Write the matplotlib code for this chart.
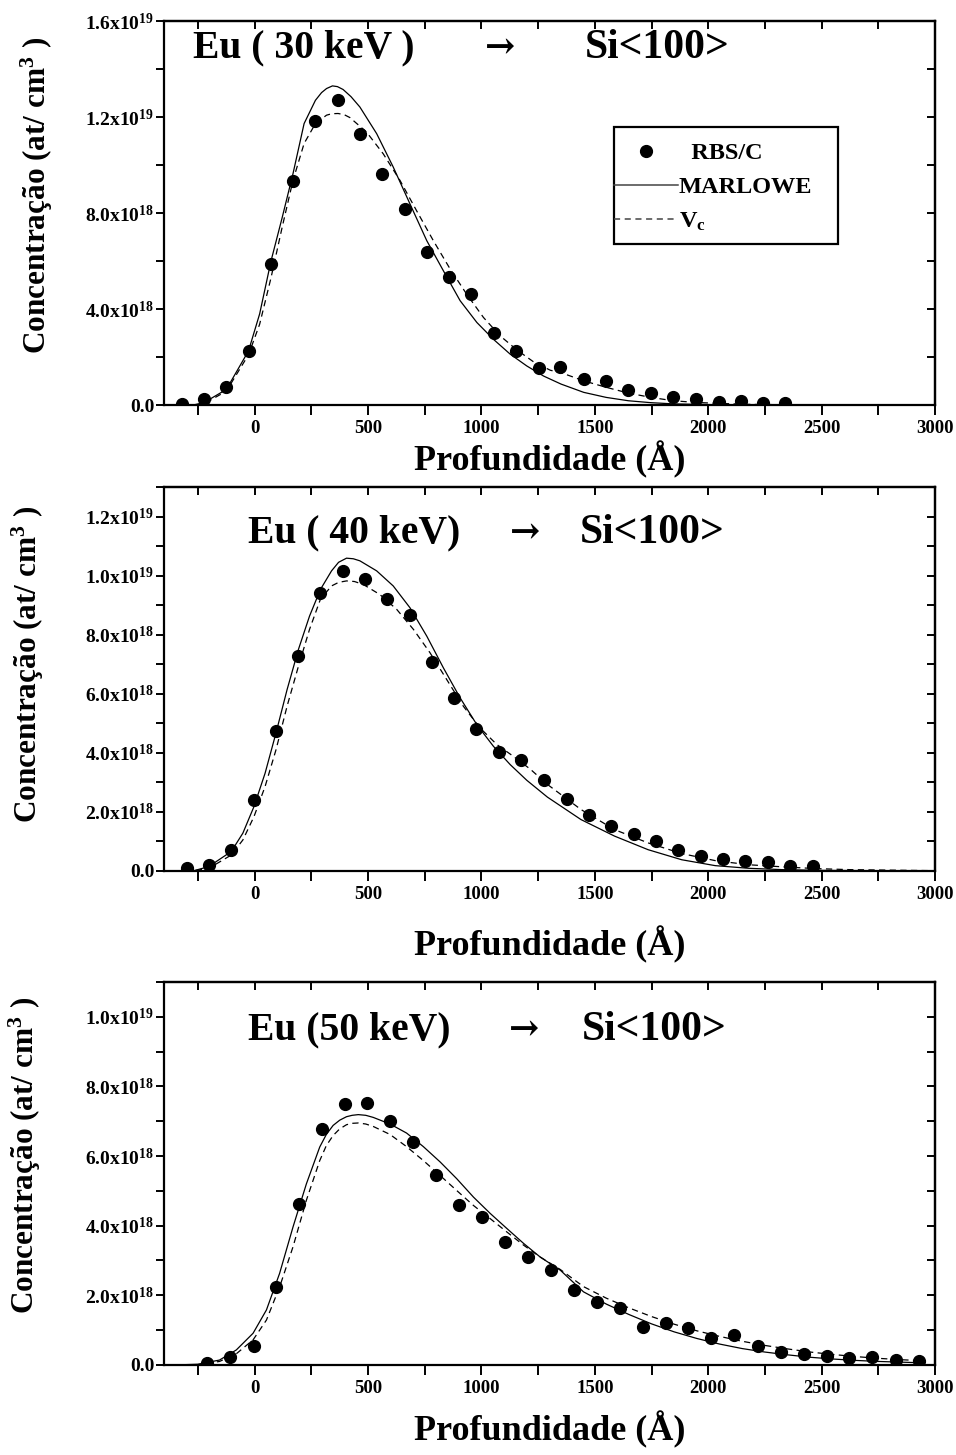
import matplotlib
matplotlib.use('Agg')
import matplotlib.pyplot as plt
import numpy as np
from matplotlib.ticker import MultipleLocator, FuncFormatter
from matplotlib.lines import Line2D
from matplotlib.patches import Rectangle

plt.rcParams['font.family'] = ['Liberation Serif', 'DejaVu Serif']
plt.rcParams['font.weight'] = 'bold'
plt.rcParams['mathtext.fontset'] = 'custom'
plt.rcParams['mathtext.rm'] = 'Liberation Serif:bold'
plt.rcParams['mathtext.it'] = 'Liberation Serif:bold'
plt.rcParams['mathtext.bf'] = 'Liberation Serif:bold'

# ---- data (depth in Angstrom, concentration in 1e18 at/cm3) ----
# 30 keV
x_rbs_30 = [-321, -224, -125, -27, 72, 169, 268, 367, 464, 563, 661, 760, 859, 956, 1055, 1154,
            1252, 1348, 1451, 1550, 1648, 1747, 1846, 1947, 2046, 2143, 2241, 2339]
y_rbs_30 = [0.06, 0.24, 0.75, 2.26, 5.88, 9.33, 11.82, 12.70, 11.28, 9.64, 8.19, 6.38, 5.35, 4.62, 3.0, 2.26,
            1.56, 1.60, 1.08, 1.01, 0.64, 0.50, 0.33, 0.26, 0.14, 0.18, 0.10, 0.07]
x_mar_30 = [-400, -272, -224, -125, -27, 22, 72, 121, 169, 218, 268, 295, 317, 343, 365, 390, 425, 464, 538, 611, 685,
            759, 832, 906, 980, 1053, 1127, 1200, 1274, 1351, 1451, 1550, 1648, 1747, 1846, 2000, 2300, 3000]
y_mar_30 = [0, 0, 0.1, 0.65, 2.26, 3.8, 6.0, 7.8, 9.64, 11.73, 12.7, 13.02, 13.19, 13.30, 13.27, 13.15, 12.85, 12.42, 11.31, 9.92, 8.38,
            6.85, 5.6, 4.35, 3.44, 2.74, 2.12, 1.63, 1.21, 0.875, 0.53, 0.32, 0.18, 0.10, 0.05, 0.02, 0.0, 0.0]
x_vc_30 = [-400, -272, -224, -125, -27, 22, 72, 121, 169, 218, 268, 317, 340, 368, 395, 420, 493, 567, 641, 714,
           788, 862, 935, 1009, 1083, 1156, 1230, 1304, 1351, 1451, 1550, 1648, 1747, 1846, 1947, 2046,
           2179, 2500, 3000]
y_vc_30 = [0, 0, 0.05, 0.58, 2.1, 3.37, 5.3, 7.4, 9.36, 10.9, 11.73, 12.08, 12.14, 12.15, 12.1, 11.98, 11.38, 10.47, 9.36, 8.1,
           6.85, 5.67, 4.62, 3.65, 2.88, 2.3, 1.8, 1.45, 1.35, 1.01, 0.74, 0.5, 0.32, 0.18, 0.11, 0.07,
           0.03, 0.0, 0.0]

# 40 keV
x_rbs_40 = [-299, -202, -103, -3, 94, 193, 290, 389, 488, 585, 683, 782, 879, 978, 1078, 1176,
            1276, 1376, 1473, 1572, 1672, 1769, 1868, 1967, 2065, 2164, 2263, 2362, 2460]
y_rbs_40 = [0.09, 0.2, 0.71, 2.39, 4.73, 7.27, 9.42, 10.16, 9.87, 9.22, 8.67, 7.07, 5.86, 4.81, 4.04, 3.75,
            3.07, 2.42, 1.88, 1.51, 1.25, 1.0, 0.72, 0.5, 0.42, 0.33, 0.31, 0.18, 0.17]
x_mar_40 = [-400, -272, -202, -103, -52, -3, 46, 94, 143, 193, 242, 290, 339, 370, 405, 435, 464, 538, 611, 685,
            759, 832, 906, 980, 1053, 1127, 1200, 1291, 1439, 1587, 1735, 1883, 2031, 2179, 2327, 2500, 3000]
y_mar_40 = [0, 0, 0.15, 0.66, 1.28, 2.18, 3.31, 4.67, 6.14, 7.5, 8.63, 9.53, 10.16, 10.45, 10.59, 10.57, 10.5, 10.16, 9.65, 8.91,
            7.95, 6.88, 5.86, 4.95, 4.22, 3.6, 3.07, 2.5, 1.74, 1.18, 0.72, 0.38, 0.18, 0.09, 0.045, 0.02, 0.0]
x_vc_40 = [-400, -272, -202, -103, -52, -3, 46, 94, 143, 193, 242, 290, 339, 370, 405, 440, 479, 552, 626, 700,
           773, 847, 920, 994, 1068, 1141, 1215, 1291, 1439, 1587, 1735, 1883, 2031, 2179, 2327, 2475,
           2623, 3000]
y_vc_40 = [0, 0, 0.09, 0.54, 1.05, 1.84, 2.86, 4.1, 5.58, 6.93, 8.18, 9.2, 9.65, 9.77, 9.82, 9.8, 9.7, 9.36, 8.86, 8.18,
           7.39, 6.48, 5.58, 4.84, 4.28, 3.88, 3.45, 2.93, 2.08, 1.4, 0.95, 0.59, 0.35, 0.21, 0.14, 0.08,
           0.045, 0.01]

# 50 keV
x_rbs_50 = [-209, -108, -5, 93, 197, 295, 398, 496, 598, 700, 801, 903, 1002, 1105, 1206, 1307,
            1408, 1509, 1610, 1711, 1812, 1913, 2014, 2115, 2219, 2321, 2422, 2524, 2623, 2724, 2828, 2929]
y_rbs_50 = [0.05, 0.22, 0.55, 2.23, 4.63, 6.79, 7.5, 7.52, 7.01, 6.4, 5.45, 4.6, 4.25, 3.53, 3.1, 2.74,
            2.15, 1.8, 1.63, 1.09, 1.2, 1.06, 0.77, 0.86, 0.54, 0.38, 0.3, 0.26, 0.2, 0.22, 0.14, 0.12]
x_mar_50 = [-400, -346, -250, -155, -81, -7, 52, 110, 169, 228, 287, 316, 346, 375, 405, 430, 457, 490, 523, 597, 670, 744,
            818, 891, 965, 1039, 1112, 1186, 1259, 1348, 1450, 1550, 1650, 1750, 1850, 1950, 2050, 2150,
            2250, 2350, 2450, 2550, 2650, 2750, 2850, 2950]
y_mar_50 = [0, 0, 0.02, 0.14, 0.43, 0.91, 1.58, 2.63, 3.96, 5.2, 6.26, 6.62, 6.88, 7.03, 7.13, 7.17, 7.19, 7.17, 7.11, 6.92, 6.66, 6.27,
            5.83, 5.35, 4.82, 4.35, 3.92, 3.49, 3.1, 2.72, 2.1, 1.75, 1.45, 1.18, 0.95, 0.76, 0.6, 0.47,
            0.37, 0.29, 0.22, 0.17, 0.13, 0.1, 0.08, 0.06]
x_vc_50 = [-400, -346, -250, -155, -81, -7, 52, 110, 169, 228, 287, 316, 346, 375, 405, 430, 457, 490, 523, 597, 670, 744,
           818, 891, 965, 1039, 1112, 1186, 1259, 1348, 1450, 1550, 1650, 1750, 1850, 1950, 2050, 2150,
           2250, 2350, 2450, 2550, 2650, 2750, 2850, 2950]
y_vc_50 = [0, 0, 0.01, 0.1, 0.32, 0.72, 1.29, 2.24, 3.39, 4.73, 5.87, 6.3, 6.59, 6.78, 6.9, 6.94, 6.95, 6.92, 6.85, 6.62, 6.27, 5.87,
           5.44, 5.01, 4.58, 4.2, 3.82, 3.44, 3.1, 2.74, 2.25, 1.92, 1.64, 1.39, 1.17, 0.98, 0.82, 0.68,
           0.56, 0.46, 0.37, 0.3, 0.24, 0.19, 0.15, 0.12]

energies = ['Eu ( 30 keV )', 'Eu ( 40 keV)', 'Eu (50 keV)']
ymax = [1.6e19, 1.3e19, 1.1e19]
ymajor = [4e18, 2e18, 2e18]
yminor = [2e18, 1e18, 1e18]

panels = [
    (x_rbs_30, y_rbs_30, x_mar_30, y_mar_30, x_vc_30, y_vc_30),
    (x_rbs_40, y_rbs_40, x_mar_40, y_mar_40, x_vc_40, y_vc_40),
    (x_rbs_50, y_rbs_50, x_mar_50, y_mar_50, x_vc_50, y_vc_50),
]

# layout (figure fractions)
ax_pos = [[0.1715, 0.7216, 0.8065, 0.2639],
          [0.1715, 0.4014, 0.8065, 0.2639],
          [0.1715, 0.0619, 0.8065, 0.2632]]
xlab_y = [-0.143, -0.193, -0.17]
ylab_xy = [(-0.165, 0.547), (-0.176, 0.539), (-0.18, 0.548)]
title_pos = [(0.0376, 0.436, 0.546, 0.93), (0.109, 0.468, 0.54, 0.88), (0.109, 0.467, 0.542, 0.875)]


def fmt(v, pos):
    if v < 1e17:
        return '0.0' if abs(v) < 1e17 else ''
    e = int(np.floor(np.log10(v) + 1e-9))
    m = v / 10**e
    return '%.1fx10$^{%d}$' % (m, e)


fig = plt.figure(figsize=(9.56, 14.55), dpi=100)

for i, (xr, yr, xm, ym, xv, yv) in enumerate(panels):
    ax = fig.add_axes(ax_pos[i])
    ax.plot(xm, np.array(ym) * 1e18, '-', color='black', lw=0.9)
    ax.plot(xv, np.array(yv) * 1e18, '--', color='black', lw=0.9, dashes=(5, 3.5))
    ax.plot(xr, np.array(yr) * 1e18, 'o', color='black', ms=8.5)

    ax.set_xlim(-400, 3000)
    ax.set_ylim(0, ymax[i])
    ax.set_xticks([0, 500, 1000, 1500, 2000, 2500, 3000])
    ax.xaxis.set_minor_locator(MultipleLocator(250))
    ax.yaxis.set_major_locator(MultipleLocator(ymajor[i]))
    ax.yaxis.set_minor_locator(MultipleLocator(yminor[i]))
    ax.yaxis.set_major_formatter(FuncFormatter(fmt))

    for s in ax.spines.values():
        s.set_linewidth(1.6)
    ax.tick_params(axis='x', which='both', bottom=True, top=False, direction='out',
                   length=7, width=1.4, labelsize=13.5, pad=4)
    ax.tick_params(axis='y', which='both', left=True, right=False, direction='out',
                   length=6, width=1.4, labelsize=14, pad=1)
    # inward ticks on top/right
    sec_x = ax.secondary_xaxis('top')
    sec_x.xaxis.set_major_locator(MultipleLocator(250))
    sec_x.tick_params(direction='in', length=6, width=1.4, labeltop=False)
    sec_x.spines['top'].set_linewidth(1.6)
    sec_y = ax.secondary_yaxis('right')
    sec_y.yaxis.set_major_locator(MultipleLocator(yminor[i]))
    sec_y.tick_params(direction='in', length=6, width=1.4, labelright=False)
    sec_y.spines['right'].set_linewidth(1.6)

    ax.set_xlabel('Profundidade (Å)', fontsize=26, fontweight='bold')
    ax.xaxis.set_label_coords(0.5, xlab_y[i])
    ax.xaxis.label.set_va('center')
    ax.set_ylabel('Concentração (at/ cm$^{3}$ )', fontsize=22.5, fontweight='bold')
    ax.yaxis.set_label_coords(*ylab_xy[i])
    ax.yaxis.label.set_va('center')

    tx, ax_arrow, sx, ty = title_pos[i]
    ax.text(tx, ty, energies[i], transform=ax.transAxes, fontsize=28.5, fontweight='bold',
            ha='left', va='center')
    ax.text(ax_arrow, ty, '→', transform=ax.transAxes, fontsize=26,
            family=['DejaVu Serif'], ha='center', va='center')
    ax.text(sx, ty, 'Si<100>', transform=ax.transAxes, fontsize=30, fontweight='bold',
            ha='left', va='center')

    if i == 0:
        handles = [Line2D([], [], ls='none', marker='o', color='black', ms=8.5),
                   Line2D([], [], ls='-', color='#444444', lw=1.1),
                   Line2D([], [], ls='--', color='#444444', lw=1.1, dashes=(4, 3))]
        labels = ['  RBS/C', 'MARLOWE', 'V$_{c}$']
        leg = ax.legend(handles, labels, loc='upper left',
                        bbox_to_anchor=((614 - 164) / 771, (405 - 142) / 384),
                        fontsize=17.5, frameon=False,
                        handlelength=2.62, handletextpad=0.04, borderpad=0,
                        labelspacing=0.5, borderaxespad=0)
        for t in leg.get_texts():
            t.set_fontweight('bold')
        ax.add_patch(Rectangle(((614 - 164) / 771, (405 - 244) / 384), 224 / 771, 117 / 384,
                               transform=ax.transAxes, fill=False, edgecolor='black',
                               linewidth=1.6, zorder=5))

fig.savefig('out.png', dpi=100)
